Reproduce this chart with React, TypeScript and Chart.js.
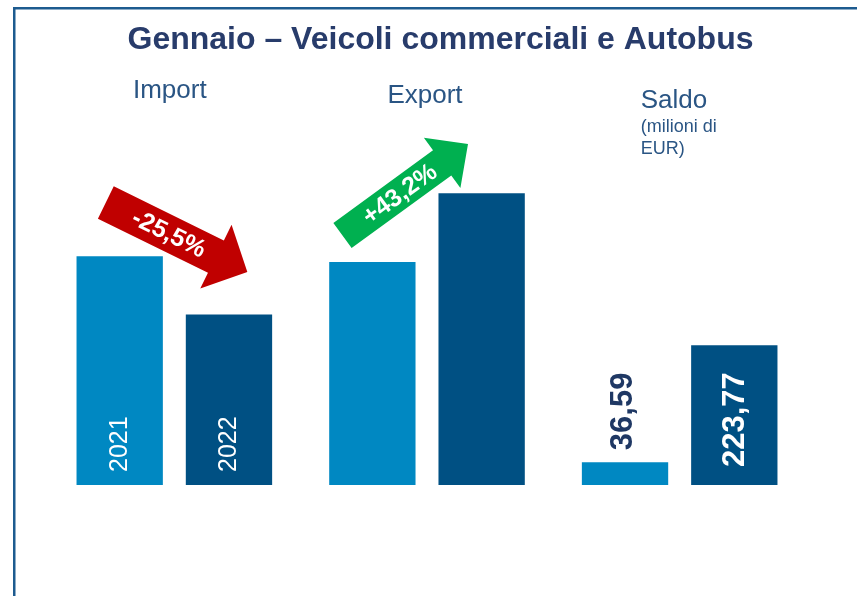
import React, { useEffect, useRef } from "react";
import { Chart, registerables } from "chart.js";

Chart.register(...registerables);

const title = "Gennaio – Veicoli commerciali e Autobus";
const groups = ["Import", "Export", "Saldo"];
const years = ["2021", "2022"];
const values2021 = [366, 357, 36.59];
const values2022 = [273, 467, 223.77];
const saldoLabels = ["36,59", "223,77"];
const changes = ["-25,5%", "+43,2%"];
const saldoNote = ["(milioni di", "EUR)"];

const FONT = '"Liberation Sans", Arial, Helvetica, sans-serif';
const LIGHT = "#0088C2";
const DARK = "#005083";

function drawArrow(
  ctx: CanvasRenderingContext2D,
  sx: number, sy: number, tx: number, ty: number,
  bw: number, hw: number, hl: number, color: string, text: string
) {
  const dx = tx - sx, dy = ty - sy;
  const L = Math.hypot(dx, dy);
  const ang = Math.atan2(dy, dx);
  ctx.save();
  ctx.translate(sx, sy);
  ctx.rotate(ang);
  ctx.beginPath();
  ctx.moveTo(0, -bw / 2);
  ctx.lineTo(L - hl, -bw / 2);
  ctx.lineTo(L - hl, -hw / 2);
  ctx.lineTo(L, 0);
  ctx.lineTo(L - hl, hw / 2);
  ctx.lineTo(L - hl, bw / 2);
  ctx.lineTo(0, bw / 2);
  ctx.closePath();
  ctx.fillStyle = color;
  ctx.fill();
  ctx.fillStyle = "#ffffff";
  ctx.font = `bold 25px ${FONT}`;
  ctx.textAlign = "center";
  ctx.textBaseline = "middle";
  ctx.fillText(text, (L - hl) / 2 + 9, 1);
  ctx.restore();
}

function rotText(
  ctx: CanvasRenderingContext2D, text: string, x: number, y: number,
  font: string, color: string
) {
  ctx.save();
  ctx.translate(x, y);
  ctx.rotate(-Math.PI / 2);
  ctx.font = font;
  ctx.fillStyle = color;
  ctx.textAlign = "left";
  ctx.textBaseline = "middle";
  ctx.fillText(text, 0, 1);
  ctx.restore();
}

const overlay = {
  id: "overlay",
  beforeDraw(chart: any) {
    const ctx: CanvasRenderingContext2D = chart.ctx;
    ctx.save();
    ctx.fillStyle = "#ffffff";
    ctx.fillRect(0, 0, chart.width, chart.height);
    ctx.fillStyle = "#1d5b8f";
    ctx.fillRect(13, 7, chart.width - 13, 2.5);
    ctx.fillRect(13, 7, 2.5, chart.height - 7);
    ctx.restore();
  },
  afterDatasetsDraw(chart: any) {
    const ctx: CanvasRenderingContext2D = chart.ctx;
    const xs = chart.scales.x;
    ctx.save();
    // title
    ctx.font = `bold 32px ${FONT}`;
    ctx.fillStyle = "#283C6B";
    ctx.textAlign = "center";
    ctx.textBaseline = "alphabetic";
    ctx.fillText(title, chart.width / 2 + 12, 49);

    // group labels
    const c0 = xs.getPixelForValue(0);
    const c1 = xs.getPixelForValue(1);
    const c2 = xs.getPixelForValue(2);
    ctx.font = `26px ${FONT}`;
    ctx.fillStyle = "#2A5584";
    ctx.fillText(groups[0], c0 - 4.5, 98);
    ctx.fillText(groups[1], c1 - 2, 103);
    ctx.textAlign = "left";
    ctx.fillText(groups[2], c2 - 39, 108);
    ctx.font = `18px ${FONT}`;
    ctx.fillText(saldoNote[0], c2 - 39, 132);
    ctx.fillText(saldoNote[1], c2 - 39, 154);

    // arrows
    drawArrow(ctx, c0 - 68.5, 202.5, c0 + 73, 272, 36, 71, 35, "#C00000", changes[0]);
    drawArrow(ctx, c1 - 84.5, 235.5, c1 + 41, 144, 31, 62, 32, "#00B050", changes[1]);

    // year labels inside Import bars
    for (let d = 0; d < 2; d++) {
      const bar = chart.getDatasetMeta(d).data[0];
      rotText(ctx, years[d], bar.x - 1, bar.base - 13, `25px ${FONT}`, "#ffffff");
    }
    // saldo labels
    const s0 = chart.getDatasetMeta(0).data[2];
    rotText(ctx, saldoLabels[0], s0.x - 3, s0.y - 12, `bold 31px ${FONT}`, "#1F3864");
    const s1 = chart.getDatasetMeta(1).data[2];
    rotText(ctx, saldoLabels[1], s1.x, s1.base - 18, `bold 31px ${FONT}`, "#ffffff");
    ctx.restore();
  },
};

export default function App() {
  const ref = useRef<HTMLCanvasElement | null>(null);
  useEffect(() => {
    if (!ref.current) return;
    const chart = new Chart(ref.current, {
      type: "bar",
      data: {
        labels: groups,
        datasets: [
          { label: years[0], data: values2021, backgroundColor: LIGHT, categoryPercentage: 0.865, barPercentage: 0.79 },
          { label: years[1], data: values2022, backgroundColor: DARK, categoryPercentage: 0.865, barPercentage: 0.79 },
        ],
      },
      options: {
        responsive: false,
        animation: false,
        devicePixelRatio: 1,
        layout: { padding: { left: 48, right: 51, top: 110, bottom: 111 } },
        scales: {
          x: { display: false },
          y: { display: false, min: 0, max: 600 },
        },
        plugins: {
          legend: { display: false },
          tooltip: { enabled: false },
          title: { display: false },
        },
      },
      plugins: [overlay],
    } as any);
    return () => chart.destroy();
  }, []);
  return (
    <div style={{ position: "fixed", left: 0, top: 0, width: 857, height: 596, background: "#fff" }}>
      <canvas ref={ref} width={857} height={596} style={{ display: "block" }} />
    </div>
  );
}
